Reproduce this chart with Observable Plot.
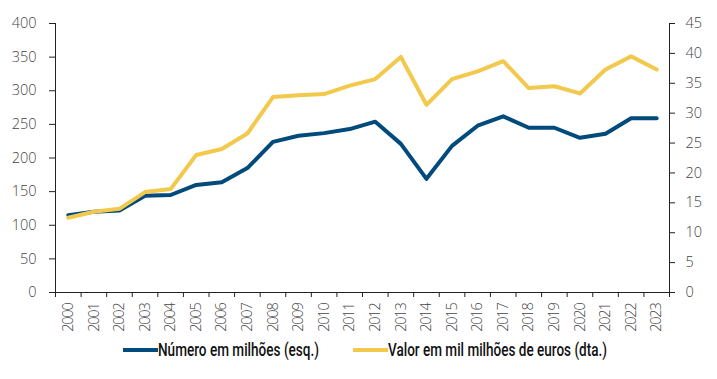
<!DOCTYPE html>
<html><head><meta charset="utf-8">
<script src="https://cdn.jsdelivr.net/npm/d3@7"></script>
<script src="https://cdn.jsdelivr.net/npm/@observablehq/plot@0.6"></script>
<style>
body{margin:0;background:#fff;position:relative;}
#legend{position:relative;height:24px;margin-top:-2px;}
.item{position:absolute;top:0;height:24px;display:flex;align-items:center;}
.sw{width:35px;height:4px;}
.txt{font-family:Roboto,sans-serif;font-weight:500;font-size:17.5px;color:#111;white-space:nowrap;transform-origin:0 50%;display:inline-block;}
.xl text{letter-spacing:-1.2px;}
</style></head>
<body>
<div id="chart"></div>
<div id="legend"></div>
<script>
const years = d3.range(2000, 2024);
const numero = [115,120,122,144,145,160,164,185,224,233,237,243,254,221,169,218,248,262,245,245,230,236,259,259];
const valor = [12.5,13.5,14.0,16.8,17.3,23.0,24.0,26.6,32.7,33.0,33.2,34.6,35.7,39.4,31.4,35.7,37.0,38.7,34.2,34.5,33.3,37.3,39.5,37.3];
const seriesNames = ["Número em milhões (esq.)", "Valor em mil milhões de euros (dta.)"];
const colors = ["#004a7c", "#f2c94c"];
const leftTicks = d3.range(0, 401, 50);
const rightTicks = d3.range(0, 46, 5);

const k = 400 / 45;
const dataN = years.map((y, i) => ({year: y, v: numero[i]}));
const dataV = years.map((y, i) => ({year: y, v: valor[i] * k}));
const bounds = d3.range(1999.5, 2024, 1);

const font = "'Open Sans', sans-serif";
const chart = Plot.plot({
  width: 717, height: 340,
  marginLeft: 55, marginRight: 48, marginTop: 23, marginBottom: 48,
  style: {fontFamily: font, fontSize: "14.5px", color: "#444", fontWeight: 300},
  x: {domain: [1999.5, 2023.5]},
  y: {domain: [0, 400]},
  marks: [
    Plot.axisY(leftTicks, {anchor: "left", tickSize: 6, tickPadding: 13, label: null, stroke: "#222"}),
    Plot.axisY(rightTicks.map(d => d * k), {anchor: "right", tickSize: 5, tickPadding: 11, label: null, tickFormat: d => String(Math.round(d / k)), stroke: "#222"}),
    Plot.axisX(bounds, {anchor: "bottom", tickSize: 5, tickFormat: () => "", label: null, stroke: "#222"}),
    Plot.axisX(years, {anchor: "bottom", tickSize: 0, tickPadding: 11, tickRotate: -90, tickFormat: d => String(d), label: null, className: "xl"}),
    Plot.ruleX([1999.5], {stroke: "#222"}),
    Plot.ruleX([2023.5], {stroke: "#222"}),
    Plot.ruleY([0], {stroke: "#222"}),
    Plot.line(dataN, {x: "year", y: "v", stroke: colors[0], strokeWidth: 4}),
    Plot.line(dataV, {x: "year", y: "v", stroke: colors[1], strokeWidth: 4})
  ]
});
document.getElementById("chart").appendChild(chart);

const leg = document.getElementById("legend");
const starts = [123, 353];
const textWidths = [161, 219];
seriesNames.forEach((name, i) => {
  const it = document.createElement("div");
  it.className = "item";
  it.style.left = starts[i] + "px";
  it.innerHTML = `<span class="sw" style="background:${colors[i]}"></span><span class="txt">${name}</span>`;
  leg.appendChild(it);
  const t = it.querySelector(".txt");
  const w = t.getBoundingClientRect().width;
  t.style.transform = `scaleX(${textWidths[i] / w})`;
});
</script>
</body></html>
